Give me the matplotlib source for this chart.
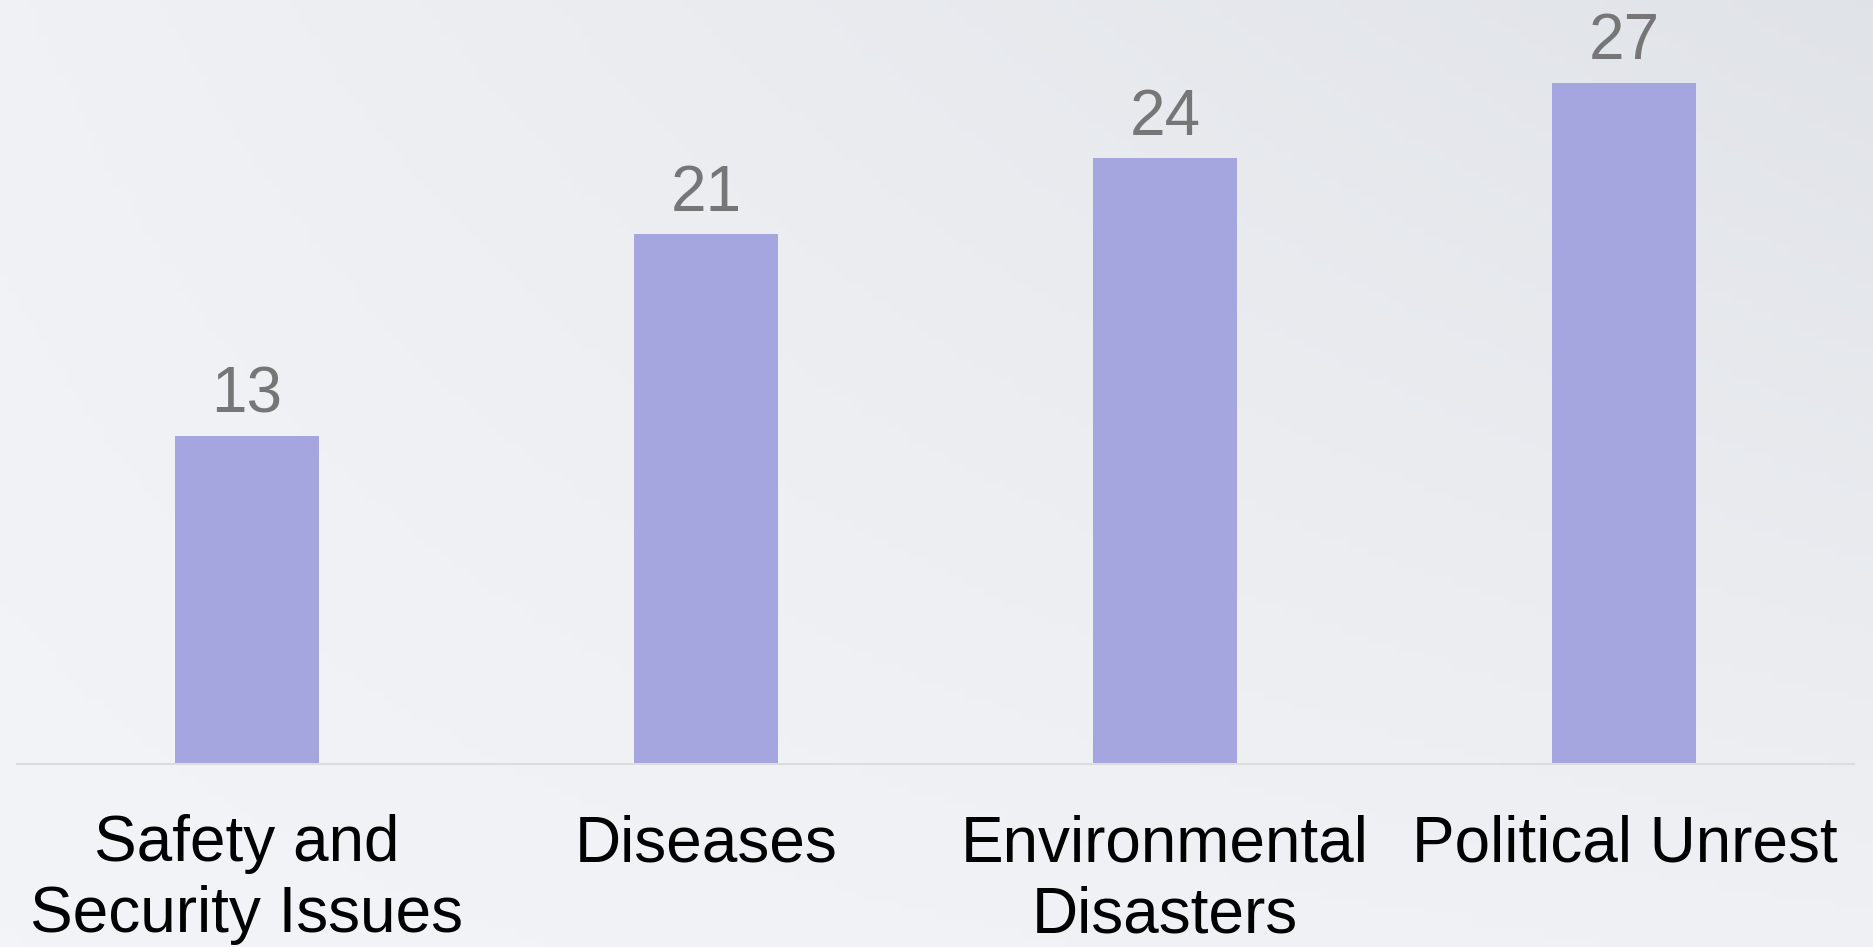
import numpy as np
import matplotlib
matplotlib.use("Agg")
import matplotlib.pyplot as plt

categories = ['Safety and\nSecurity Issues', 'Diseases', 'Environmental\nDisasters', 'Political Unrest']
values = [13, 21, 24, 27]

plt.rcParams['font.family'] = ['Liberation Sans', 'DejaVu Sans']

fig = plt.figure(figsize=(18.74, 9.47), dpi=100)

# soft background gradient, darker toward top right
bg = fig.add_axes([0, 0, 1, 1])
gx, gy = np.meshgrid(np.linspace(0, 1, 200), np.linspace(0, 1, 100))
shade = 0.25 * gx + 0.75 * gy * gx + 0.2 * gy
c_light = np.array([0.953, 0.957, 0.969])
c_dark = np.array([0.878, 0.890, 0.910])
img = c_light + (c_dark - c_light) * (shade / shade.max())[..., None]
bg.imshow(img, origin='lower', aspect='auto', extent=[0, 1, 0, 1])
bg.axis('off')

ax = fig.add_axes([17 / 1874, 1 - 764 / 947, 1837 / 1874, 764 / 947])
ax.patch.set_alpha(0)
x = np.arange(len(categories))
bars = ax.bar(x, values, width=0.3135, color='#A5A5DF', zorder=2)
ax.set_xlim(-0.5, 3.5)
ax.set_ylim(0, 764 / 25.23)

for b, v in zip(bars, values):
    ax.annotate(str(v), (b.get_x() + b.get_width() / 2, v), xytext=(0, 17),
                textcoords='offset points', ha='center', va='baseline',
                fontsize=46, color='#767676')

ax.set_xticks(x)
ax.set_xticklabels(categories, fontsize=46, color='black', linespacing=1.24)
ax.tick_params(axis='x', length=0, pad=36)
ax.set_yticks([])
for s in ['top', 'left', 'right']:
    ax.spines[s].set_visible(False)
ax.spines['bottom'].set_color('#DCDCDC')
ax.spines['bottom'].set_linewidth(1.5)

fig.savefig('out.png', dpi=100)
